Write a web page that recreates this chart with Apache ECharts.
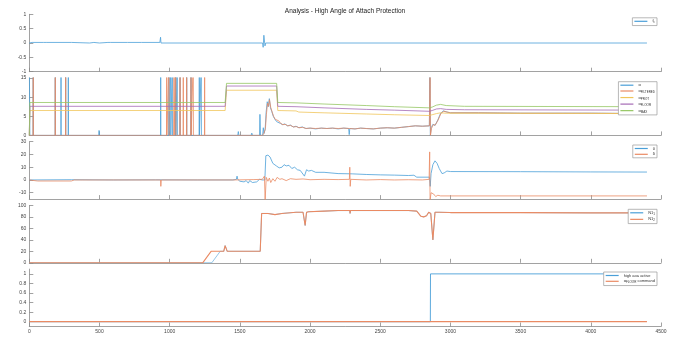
<!DOCTYPE html>
<html><head><meta charset="utf-8">
<script src="https://cdn.jsdelivr.net/npm/echarts@6/dist/echarts.min.js"></script>
<style>html,body{margin:0;padding:0;background:#fff}#c{width:690px;height:346px}</style>
</head><body><div id="c"></div>
<script>
const titleText = 'Analysis - High Angle of Attach Protection';

// subplot 1
const fc = [[0,0],[20,0.02],[100,0.02],[110,0.01],[120,0.02],[300,0.02],[310,0],[430,0],[440,0.02],[460,0.02],[470,0],[500,0],[510,0.02],[560,0.02],[570,-0.01],[580,0.02],[700,0.02],[705,-0.02],[712,0.02],[800,0.02],[805,-0.02],[812,0.02],[930,0.02],[935,0.2],[938,0],[1662,0],[1666,-0.15],[1671,0.27],[1675,0.22],[1679,-0.1],[1684,0],[4400,0]];

// subplot 2
const alpha = [[0,20],[4,0],[27,0],[28,20],[29,0],[184,0],[185,20],[186,0],[225,0],[226,20],[227,0],[258,0],[259,20],[260,0],[277,0],[278,20],[279,0],[495,0],[497,1.3],[499,0],[935,0],[936,20],[937,0],[994,0],[995,20],[996,0],[1006,0],[1007,20],[1008,0],[1018,0],[1019,20],[1020,0],[1042,0],[1043,20],[1044,0],[1053,0],[1054,20],[1055,0],[1073,0],[1074,20],[1075,0],[1120,0],[1121,20],[1122,0],[1151,0],[1152,20],[1153,0],[1210,0],[1211,20],[1212,0],[1224,0],[1225,20],[1226,0],[1485,0],[1489,1],[1493,0],[1580,0],[1585,0.6],[1590,0],[1640,0],[1643,5.5],[1647,0],[1662,0],[1667,2],[1672,0.5],[1680,1.5],[1687,6],[1695,8.8],[1702,7.5],[1710,9.6],[1718,7.2],[1728,6.2],[1738,5],[1750,4.2],[1762,3.6],[1775,3.9],[1790,3.1],[1805,2.8],[1820,3],[1840,2.5],[1860,2.7],[1880,2.2],[1900,2.4],[1920,2],[1945,2.2],[1970,1.8],[2000,1.9],[2040,1.7],[2080,1.9],[2120,1.8],[2160,1.9],[2200,1.7],[2240,1.9],[2275,1.8],[2279,0.2],[2283,1.8],[2320,1.7],[2360,1.9],[2400,1.8],[2450,1.7],[2500,1.9],[2550,2.0],[2600,1.9],[2650,2.1],[2700,2.3],[2750,2.5],[2800,2.4],[2850,2.5],[2854,20],[2857,0],[2863,2],[2875,2.9],[2890,2.6],[2910,4],[2930,5.8],[2950,6.4],[2975,6.1],[3000,5.9],[3200,5.9],[3500,5.8],[4000,5.8],[4400,5.7]];
const alphaFiltered = [[0,0],[27,0],[28,20],[29,0],[184,0],[185,20],[186,0],[258,0],[259,20],[260,0],[978,0],[979,20],[980,0],[994,0],[995,20],[996,0],[1030,0],[1031,20],[1032,0],[1042,0],[1043,20],[1044,0],[1073,0],[1074,20],[1075,0],[1096,0],[1097,20],[1098,0],[1120,0],[1121,20],[1122,0],[1151,0],[1152,20],[1153,0],[1167,0],[1168,20],[1169,0],[1248,0],[1249,20],[1250,0],[1662,0],[1672,0.6],[1682,1.8],[1689,5.5],[1697,8.4],[1704,7.6],[1711,9.3],[1720,7.3],[1730,6.1],[1740,5],[1752,4.2],[1764,3.7],[1777,3.8],[1792,3.1],[1807,2.8],[1822,2.9],[1842,2.5],[1862,2.6],[1882,2.2],[1902,2.3],[1922,2],[1947,2.1],[1972,1.8],[2000,1.9],[2040,1.8],[2080,1.9],[2120,1.8],[2160,1.9],[2200,1.8],[2240,1.9],[2280,1.8],[2320,1.7],[2360,1.9],[2400,1.8],[2450,1.7],[2500,1.9],[2550,2.0],[2600,1.9],[2650,2.1],[2700,2.3],[2750,2.5],[2800,2.4],[2850,2.5],[2855,20],[2858,0],[2865,1.8],[2877,2.8],[2892,2.7],[2912,4],[2932,5.7],[2952,6.3],[2977,6.1],[3000,5.9],[3200,5.9],[3500,5.8],[4000,5.8],[4400,5.7]];
const alphaProt = [[0,0],[4,6.5],[1395,6.5],[1405,11.8],[1762,11.8],[1770,6.5],[1900,6.4],[1920,6.1],[2100,5.9],[2400,5.6],[2600,5.4],[2850,5.2],[2870,5.4],[2900,5.7],[2930,5.9],[2970,5.8],[3100,5.8],[4400,5.7]];
const alphaFloor = [[0,0],[4,7.6],[1395,7.6],[1405,12.9],[1762,12.9],[1770,7.6],[1900,7.5],[2100,7.2],[2400,6.8],[2600,6.6],[2850,6.3],[2870,6.5],[2900,6.9],[2930,7.0],[2970,6.8],[3100,6.7],[4400,6.6]];
const alphaMax = [[0,0],[4,8.6],[1395,8.6],[1405,13.6],[1762,13.6],[1770,8.6],[1900,8.5],[2100,8.2],[2400,7.8],[2600,7.5],[2850,7.2],[2870,7.4],[2900,7.9],[2930,8.1],[2970,7.8],[3100,7.6],[4400,7.5]];

// subplot 3
const theta = [[0,0],[300,0.2],[600,0],[900,0.1],[1200,0],[1450,0],[1475,0.5],[1480,3],[1485,0.5],[1500,-1],[1510,0],[1530,-1.5],[1545,-0.5],[1560,-2.5],[1570,-0.5],[1590,-2],[1600,-1],[1620,-1.5],[1640,0.5],[1660,0],[1678,0],[1685,19],[1700,19.5],[1715,18],[1735,13],[1760,11],[1780,9.5],[1800,10],[1815,12],[1830,11],[1850,11.5],[1870,9],[1890,10],[1910,8],[1930,7.5],[1960,3],[1975,8],[1990,7],[2010,7.5],[2040,6],[2100,6],[2200,5],[2300,4.8],[2400,4.3],[2500,4],[2600,3.8],[2700,3.5],[2740,3.7],[2760,2.2],[2850,2.2],[2856,-5],[2862,5],[2875,12],[2890,15],[2905,13],[2920,9],[2940,5],[2955,5.5],[2975,7],[3000,6.6],[3500,6.5],[4000,6.3],[4400,6.2]];
const delta = [[0,0],[60,-0.8],[300,-0.8],[320,0],[440,0],[445,-0.5],[460,0],[935,0],[937,-5],[940,0],[1450,0],[1600,0.3],[1660,0.5],[1675,3],[1680,-16],[1688,2],[1700,-1],[1710,1.5],[1720,-2],[1735,1],[1750,-1],[1765,2],[1785,0.5],[1800,1],[1830,-0.5],[1860,1],[1900,0.5],[1950,0.8],[2000,0.2],[2100,0.5],[2200,0.3],[2280,0.5],[2283,10],[2286,-5],[2290,0.5],[2400,0],[2500,0.3],[2600,0],[2700,0.2],[2800,0],[2848,0.5],[2852,22],[2855,-16],[2862,-10],[2880,-11],[2895,-13],[2910,-12],[2930,-12.5],[3000,-12.5],[4400,-12.5]];

// subplot 4
const n1First = [[0,0],[1300,0],[1360,20],[1385,20],[1395,30],[1405,29],[1410,20],[1645,20],[1655,86],[1700,86],[1750,84],[1800,86],[1900,88],[1950,88],[1965,65],[1975,88],[1990,89],[2100,90],[2200,91],[2283,91],[2285,86],[2288,91],[2400,91],[2500,91],[2600,91],[2700,91],[2760,90],[2790,81],[2810,80],[2830,82],[2845,88],[2860,86],[2875,40],[2890,88],[2920,88],[3000,87.5],[3500,87.5],[4000,87],[4400,87]];
const n1Second = [[0,0],[1235,0],[1295,20],[1385,20],[1395,30],[1405,29],[1410,20],[1645,20],[1655,86],[1700,86],[1750,84],[1800,86],[1900,88],[1950,88],[1965,65],[1975,88],[1990,89],[2100,90],[2200,91],[2283,91],[2285,86],[2288,91],[2400,91],[2500,91],[2600,91],[2700,91],[2760,90],[2790,81],[2810,80],[2830,82],[2845,88],[2860,86],[2875,40],[2890,88],[2920,88],[3000,87.5],[3500,87.5],[4000,87],[4400,87]];

// subplot 5
const highAoaActive = [[0,0],[2857,0],[2858,1],[4400,1]];
const floorCommand = [[0,0],[4400,0]];

const C = {blue:'#4a9fd8', orange:'#ea8a63', yellow:'#f0c55a', purple:'#a56bb5', green:'#95c763'};
const FONT = 'Liberation Sans, Arial, sans-serif';
const L = 29.3, R = 29, T0 = 14.3, H = 57.4, STEP = 63.7;

const yDefs = [
  {min:-1, max:1, interval:0.5},
  {min:0, max:15, interval:5},
  {min:-15, max:30, interval:5, custom:[-10,0,10,20,30]},
  {min:0, max:100, interval:20},
  {min:-0.1, max:1.1, interval:0.1, custom:[0,0.2,0.4,0.6,0.8,1]}
];
const axisCol = '#8a8a8a';
const grid = [], xAxis = [], yAxis = [];
for (let i = 0; i < 5; i++) {
  grid.push({left:L, right:R, top:T0 + i*STEP, height:H, containLabel:false});
  xAxis.push({type:'value', gridIndex:i, min:0, max:4500, interval:500,
    axisLine:{show:true, onZero:false, lineStyle:{color:axisCol, width:0.8}},
    axisTick:{show:true, inside:true, length:4, lineStyle:{color:axisCol, width:0.8}},
    axisLabel:{show:i===4, fontSize:5, color:'#444', margin:3, fontFamily:FONT, formatter:v => String(v)},
    splitLine:{show:false}});
  const d = yDefs[i];
  const y = {type:'value', gridIndex:i, min:d.min, max:d.max, interval:d.interval,
    axisLine:{show:true, onZero:false, lineStyle:{color:axisCol, width:0.8}},
    axisTick:{show:true, inside:true, length:4, lineStyle:{color:axisCol, width:0.8}},
    axisLabel:{show:true, fontSize:5, color:'#444', margin:3, fontFamily:FONT, formatter:v => String(v)},
    splitLine:{show:false}};
  if (d.custom) { y.axisLabel.customValues = d.custom; y.axisTick.customValues = d.custom; }
  yAxis.push(y);
}

function ser(name, data, idx, color, w) {
  return {name, type:'line', data, xAxisIndex:idx, yAxisIndex:idx, showSymbol:false, symbol:'none',
    clip:true, animation:false, lineStyle:{color, width:w || 0.8}, itemStyle:{color}, emphasis:{disabled:true}};
}
const series = [
  ser('f_c', fc, 0, C.blue),
  ser('α', alpha, 1, C.blue),
  ser('α_FILTERED', alphaFiltered, 1, C.orange),
  ser('α_PROT', alphaProt, 1, C.yellow),
  ser('α_FLOOR', alphaFloor, 1, C.purple),
  ser('α_MAX', alphaMax, 1, C.green),
  ser('θ', theta, 2, C.blue),
  ser('δ', delta, 2, C.orange),
  ser('N1_1', n1First, 3, C.blue, 0.6),
  ser('N1_2', n1Second, 3, C.orange, 1.1),
  ser('high aoa active', highAoaActive, 4, C.blue, 0.9),
  ser('α_FLOOR command', floorCommand, 4, C.orange, 1.2)
];
const richNames = {
  'f_c':'f{s|c}', 'α':'α', 'α_FILTERED':'α{s|FILTERED}', 'α_PROT':'α{s|PROT}', 'α_FLOOR':'α{s|FLOOR}',
  'α_MAX':'α{s|MAX}', 'θ':'θ', 'δ':'δ', 'N1_1':'N1{s|1}', 'N1_2':'N1{s|2}',
  'high aoa active':'high aoa active', 'α_FLOOR command':'α{s|FLOOR} command'
};
function legend(names, top) {
  return {data:names, right:33, top, orient:'vertical', selectedMode:false,
    backgroundColor:'#fff', borderColor:'#9a9a9a', borderWidth:0.7, borderRadius:0,
    padding:[1.5,2,1.5,2], itemGap:1.8, itemWidth:13, itemHeight:1.2, icon:'rect',
    formatter:n => richNames[n],
    textStyle:{fontSize:4, color:'#333', fontFamily:FONT, rich:{s:{fontSize:3, padding:[2.5,0,0,0], color:'#333', fontFamily:FONT}}}};
}
const option = {
  backgroundColor:'#fff', animation:false,
  title:{text:titleText, left:'center', top:3, textStyle:{fontSize:6.5, fontWeight:'normal', color:'#222', fontFamily:FONT}},
  grid, xAxis, yAxis, series,
  legend:[
    legend(['f_c'], 17.8),
    legend(['α','α_FILTERED','α_PROT','α_FLOOR','α_MAX'], 81.7),
    legend(['θ','δ'], 145),
    legend(['N1_1','N1_2'], 209.3),
    legend(['high aoa active','α_FLOOR command'], 272)
  ]
};
const chart = echarts.init(document.getElementById('c'), null, {renderer:'canvas'});
chart.setOption(option);
</script>
</body></html>
